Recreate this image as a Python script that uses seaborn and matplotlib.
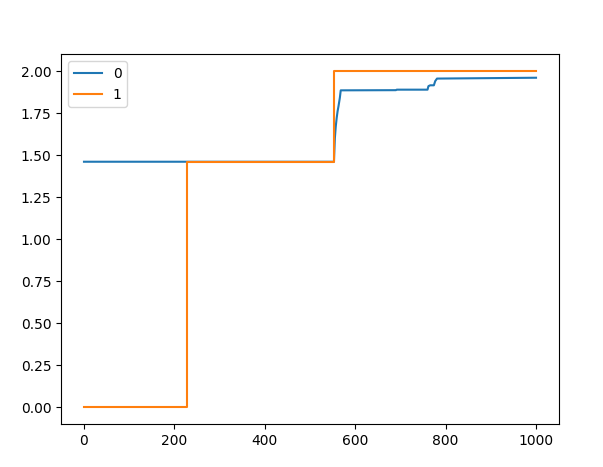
import matplotlib
matplotlib.use('Agg')
import matplotlib.pyplot as plt
import seaborn as sns

# 数据
# --------------------------------------------------------
x0 = [0, 553, 555, 557, 559, 561, 563, 566, 568, 690, 692, 760, 762, 766, 774, 777, 781, 1000]
y0 = [1.46, 1.46, 1.60, 1.67, 1.72, 1.76, 1.79, 1.84, 1.885, 1.886, 1.889, 1.889, 1.91, 1.915, 1.915, 1.94, 1.955, 1.96]

x1 = [0, 227, 553, 1000]
y1 = [0.0, 1.46, 2.0, 2.0]

labels = ['0', '1']

# 绘图
# --------------------------------------------------------
fig, ax = plt.subplots(figsize=(6.03, 4.67), dpi=100)
fig.subplots_adjust(left=0.1018, right=0.9264, bottom=0.0925, top=0.8839)

sns.lineplot(x=x0, y=y0, ax=ax, color='C0', label=labels[0],
             estimator=None, sort=False)
sns.lineplot(x=x1, y=y1, ax=ax, color='C1', label=labels[1],
             estimator=None, sort=False, drawstyle='steps-post')

ax.set_yticks([0.0, 0.25, 0.5, 0.75, 1.0, 1.25, 1.5, 1.75, 2.0])
ax.legend(loc='upper left')

fig.savefig('out.png', dpi=100)
